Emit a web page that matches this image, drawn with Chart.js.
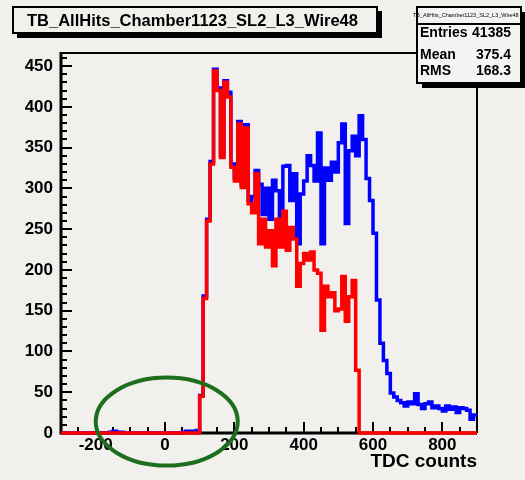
<!DOCTYPE html>
<html>
<head>
<meta charset="utf-8">
<script src="https://cdn.jsdelivr.net/npm/chart.js@4/dist/chart.umd.min.js"></script>
<style>
  html, body { margin: 0; padding: 0; background: #f1f0ec; }
  canvas { display: block; }
</style>
</head>
<body>
<canvas id="c" width="525" height="480"></canvas>
<script>
// ---- data ----
const histTitle = 'TB_AllHits_Chamber1123_SL2_L3_Wire48';
const axisTitle = 'TDC counts';
const xRange = [-300, 900];
const binWidth = 10;
const yRange = [0, 466];
const xTickValues = [-200, 0, 200, 400, 600, 800];
const yTickValues = [0, 50, 100, 150, 200, 250, 300, 350, 400, 450];
const statsLabels = ['Entries', 'Mean', 'RMS'];
const statsValues = ['41385', '375.4', '168.3'];

// bin contents, bins of width 10 starting at -300 (120 bins)
const redCounts = [
  0,0,0,0,0,0,0,0,0,0, 0,0,0,0,0,0,0,0,0,0,
  0,0,0,0,0,0,0,0,0,0, 0,0,0,0,0,0,0,0,0,0,
  45,165,260,330,444,420,338,430,412,326,
  309,379,301,374,281,270,318,232,262,228,
  248,205,262,228,272,224,252,238,180,208,
  220,212,222,200,196,126,180,167,172,150,
  152,192,137,167,187,77,
  0,0,0,0,0,0,0,0,0,0, 0,0,0,0,0,0,0,0,0,0,
  0,0,0,0,0,0,0,0,0,0, 0,0,0,0
];
const blueCounts = [
  0,0,0,0,0,0,0,0,0,0, 0,0,0,0,1,2,0,1,0,0,
  0,0,0,0,0,0,0,0,0,0, 0,0,0,0,0,1,2,1,2,3,
  46,168,262,333,446,423,340,432,418,330,
  313,382,305,378,285,290,322,305,268,300,
  262,310,297,265,327,328,285,318,232,293,
  309,340,328,309,368,232,325,310,332,320,
  356,379,257,346,364,340,
  389,360,312,285,245,163,110,89,73,49,
  44,40,37,33,38,36,48,35,30,36,
  38,31,33,30,27,33,29,32,25,31,
  30,28,17,22
];
const xMajorStep = 200, xMinorStep = 50;
const yMajorStep = 50, yMinorStep = 10;
const circleCenter = [5, 14]; // data coords of the hand-drawn marker

function toSteps(counts) {
  const pts = counts.map((c, i) => ({ x: xRange[0] + i * binWidth, y: c }));
  pts.push({ x: xRange[0] + counts.length * binWidth, y: counts[counts.length - 1] });
  return pts;
}

const FONT = '"Liberation Sans", Arial, Helvetica, sans-serif';
const BG = '#f1f0ec';

const rootPlugin = {
  id: 'rootStyle',
  beforeDraw(chart) {
    const ctx = chart.ctx;
    ctx.save();
    ctx.fillStyle = BG;
    ctx.fillRect(0, 0, chart.width, chart.height);
    ctx.restore();
  },
  beforeDatasetsDraw(chart) {
    const { ctx, chartArea: a, scales: { x, y } } = chart;
    ctx.save();
    ctx.strokeStyle = '#000';
    ctx.lineWidth = 2;
    ctx.beginPath();
    ctx.moveTo(a.left, a.top); ctx.lineTo(a.right, a.top); ctx.lineTo(a.right, a.bottom);
    ctx.stroke();
    ctx.lineWidth = 3;
    ctx.beginPath();
    ctx.moveTo(a.left, a.top - 1); ctx.lineTo(a.left, a.bottom); ctx.lineTo(a.right, a.bottom);
    ctx.stroke();
    ctx.lineWidth = 2;
    ctx.beginPath();
    for (let v = yRange[0]; v <= yRange[1]; v += yMinorStep) {
      const py = Math.round(y.getPixelForValue(v));
      const len = (v % yMajorStep === 0) ? 11 : 6;
      ctx.moveTo(a.left, py); ctx.lineTo(a.left + len, py);
    }
    for (let v = xRange[0] + xMinorStep; v < xRange[1]; v += xMinorStep) {
      const px = Math.round(x.getPixelForValue(v));
      const len = (v % xMajorStep === 0) ? 11 : 6;
      ctx.moveTo(px, a.bottom); ctx.lineTo(px, a.bottom - len);
    }
    ctx.stroke();
    ctx.restore();
  },
  afterDraw(chart) {
    const { ctx, scales: { x, y } } = chart;
    ctx.save();
    ctx.strokeStyle = '#1d6e1d';
    ctx.lineWidth = 4;
    ctx.beginPath();
    ctx.ellipse(x.getPixelForValue(circleCenter[0]), y.getPixelForValue(circleCenter[1]), 71, 44, 0, 0, Math.PI * 2);
    ctx.stroke();

    // title box
    ctx.fillStyle = '#000';
    ctx.fillRect(17, 11, 365, 27);
    ctx.fillStyle = BG;
    ctx.fillRect(13, 7, 364, 26);
    ctx.strokeStyle = '#000';
    ctx.lineWidth = 2;
    ctx.strokeRect(13, 7, 364, 26);
    ctx.fillStyle = '#000';
    ctx.font = 'bold 16.5px ' + FONT;
    ctx.textBaseline = 'middle';
    ctx.textAlign = 'left';
    ctx.fillText(histTitle, 27, 21);

    // stats box
    ctx.fillStyle = '#000';
    ctx.fillRect(422, 12, 104, 76);
    ctx.fillStyle = '#f4f4f2';
    ctx.fillRect(417, 7, 104, 76);
    ctx.lineWidth = 2;
    ctx.strokeRect(417, 7, 104, 76);
    ctx.beginPath();
    ctx.moveTo(417, 24); ctx.lineTo(521, 24);
    ctx.stroke();
    ctx.fillStyle = '#000';
    ctx.font = '5.5px ' + FONT;
    ctx.textAlign = 'left';
    ctx.fillText(histTitle, 413, 15);
    ctx.font = 'bold 14px ' + FONT;
    const rows = [33, 55, 71.5];
    statsLabels.forEach((lab, i) => {
      ctx.textAlign = 'left';
      ctx.fillText(lab, 420, rows[i]);
      ctx.textAlign = 'right';
      ctx.fillText(statsValues[i], 511, rows[i]);
    });
    ctx.restore();
  }
};

new Chart(document.getElementById('c'), {
  type: 'line',
  data: {
    datasets: [
      {
        label: 'subset',
        data: toSteps(redCounts),
        borderColor: '#ff0000',
        borderWidth: 3.5,
        stepped: 'before',
        pointRadius: 0,
        fill: false,
        clip: false
      },
      {
        label: 'all',
        data: toSteps(blueCounts),
        borderColor: '#0000ff',
        borderWidth: 3.5,
        stepped: 'before',
        pointRadius: 0,
        fill: false,
        clip: false
      }
    ]
  },
  options: {
    responsive: false,
    animation: false,
    events: [],
    layout: { padding: { top: 53, right: 48, left: 0, bottom: 0 } },
    plugins: { legend: { display: false }, tooltip: { enabled: false }, title: { display: false } },
    scales: {
      x: {
        type: 'linear',
        min: xRange[0], max: xRange[1],
        grid: { display: false, drawTicks: false },
        border: { display: false },
        afterBuildTicks(s) { s.ticks = xTickValues.map(v => ({ value: v })); },
        ticks: {
          autoSkip: false, maxRotation: 0,
          color: '#000', padding: 2,
          font: { family: FONT, size: 17, weight: 'bold' }
        },
        title: {
          display: true, text: axisTitle, align: 'end', color: '#000',
          padding: { top: 0, bottom: 7 },
          font: { family: FONT, size: 19, weight: 'bold' }
        },
        afterFit(s) { s.height = 47; }
      },
      y: {
        min: yRange[0], max: yRange[1],
        grid: { display: false, drawTicks: false },
        border: { display: false },
        afterBuildTicks(s) { s.ticks = yTickValues.map(v => ({ value: v })); },
        ticks: {
          autoSkip: false,
          color: '#000', padding: 8,
          font: { family: FONT, size: 17, weight: 'bold' }
        },
        afterFit(s) { s.width = 61; }
      }
    }
  },
  plugins: [rootPlugin]
});
</script>
</body>
</html>
